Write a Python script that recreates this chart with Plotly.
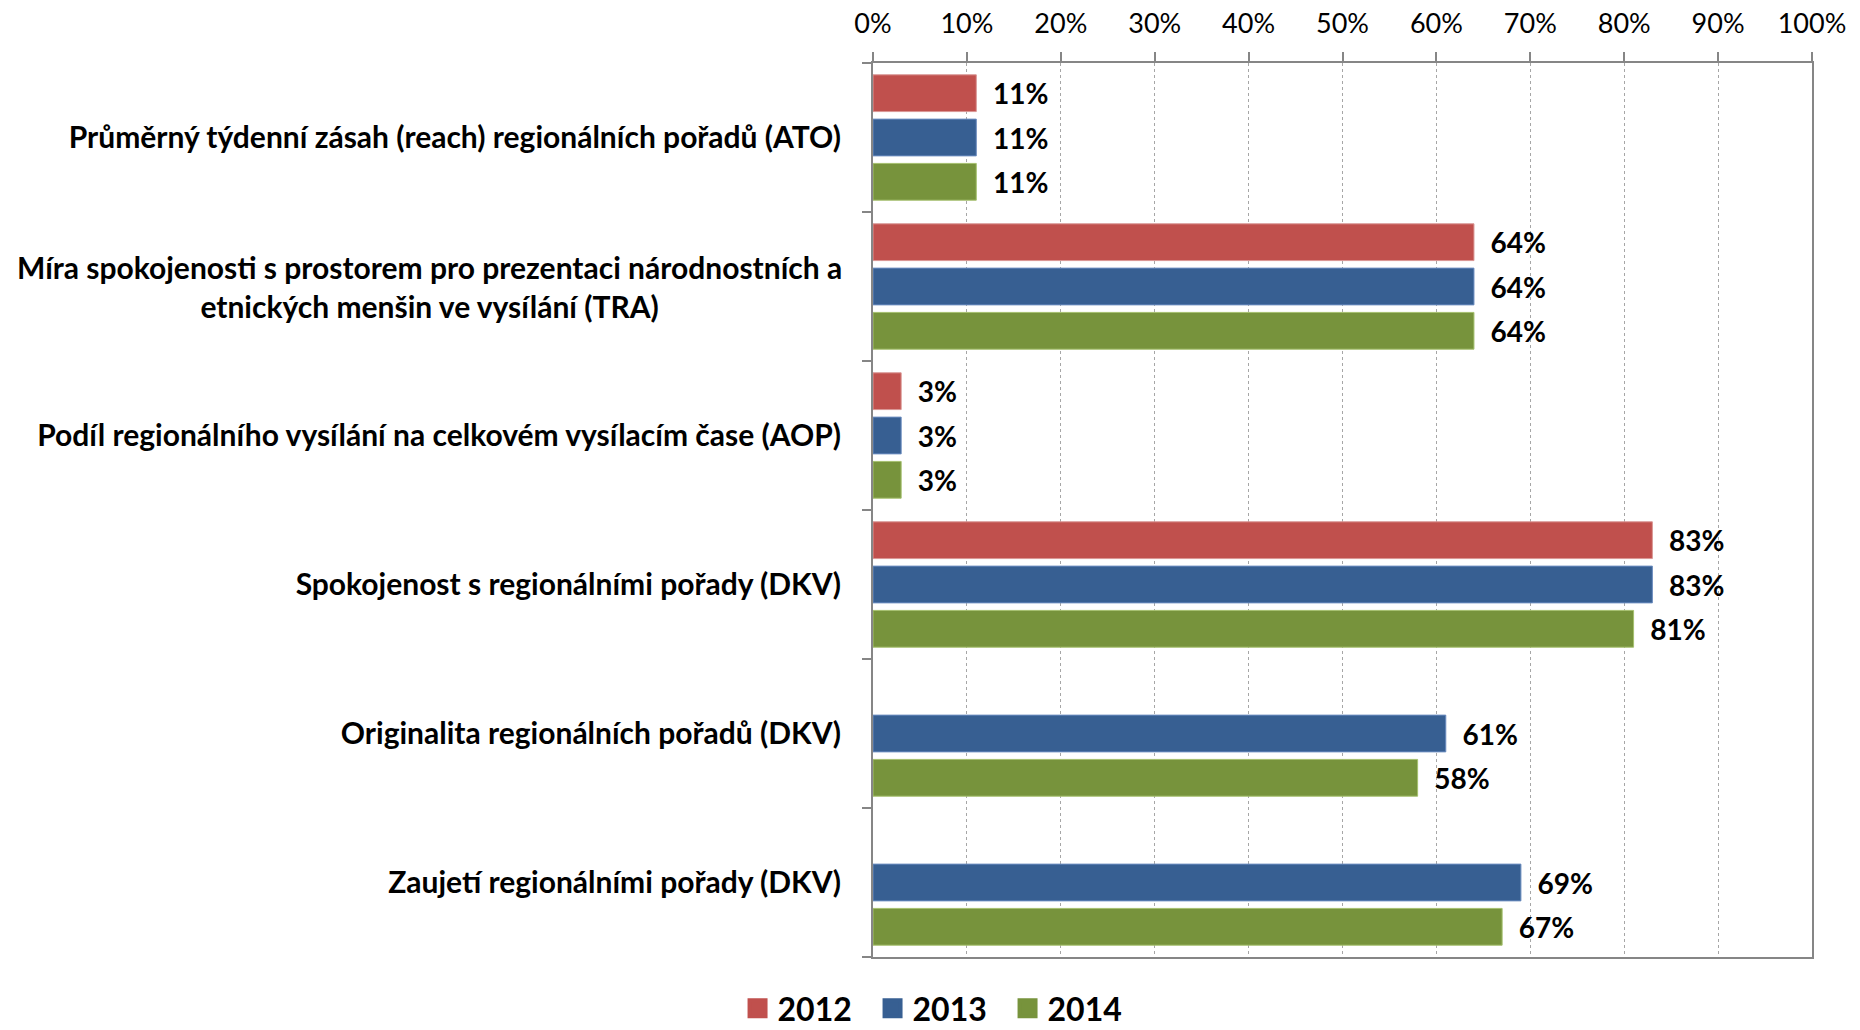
import plotly.graph_objects as go

categories = [
    "Průměrný týdenní zásah (reach) regionálních pořadů (ATO)",
    "Míra spokojenosti s prostorem pro prezentaci národnostních a<br>etnických menšin ve vysílání (TRA)",
    "Podíl regionálního vysílání na celkovém vysílacím čase (AOP)",
    "Spokojenost s regionálními pořady (DKV)",
    "Originalita regionálních pořadů (DKV)",
    "Zaujetí regionálními pořady (DKV)",
]
years = ["2012", "2013", "2014"]
values_2012 = [11, 64, 3, 83, None, None]
values_2013 = [11, 64, 3, 83, 61, 69]
values_2014 = [11, 64, 3, 81, 58, 67]
x_ticks = [0, 10, 20, 30, 40, 50, 60, 70, 80, 90, 100]
x_tick_labels = ["0%", "10%", "20%", "30%", "40%", "50%", "60%", "70%", "80%", "90%", "100%"]

series = [values_2012, values_2013, values_2014]
colors = ["#C0504D", "#375F92", "#77933C"]
edge_colors = ["#D99694", "#6B8CBF", "#A5C06E"]
FONT = "Lato"

fig = go.Figure()
for name, vals, col, edge in zip(years, series, colors, edge_colors):
    fig.add_trace(go.Bar(
        y=categories, x=vals, orientation="h", name=name,
        marker=dict(color=col, line=dict(color=edge, width=1)),
        texttemplate="  %{x:.0f}%", textposition="outside", cliponaxis=False,
        textfont=dict(family=FONT, size=28, color="#000000", weight="bold"),
        showlegend=False, hoverinfo="skip",
    ))
    fig.add_trace(go.Scatter(
        x=[None], y=[None], mode="markers", name=name,
        marker=dict(symbol="square", size=16, color=col, line=dict(color=col, width=4)),
        showlegend=True,
    ))

tick_text = [c if "<br>" not in c else "" for c in categories]
annotations = []
for c in categories:
    if "<br>" in c:
        annotations.append(dict(
            text=c, xref="paper", yref="y", x=0, y=c, xanchor="right",
            xshift=-29, align="center", showarrow=False,
            font=dict(family=FONT, size=30, color="#000000", weight="bold"),
        ))

fig.update_layout(
    width=1860, height=1030,
    margin=dict(l=873, r=48, t=63, b=73, autoexpand=False),
    paper_bgcolor="white", plot_bgcolor="white",
    barmode="group", bargap=0.108, bargroupgap=0.17,
    font=dict(family=FONT, color="#000000"),
    annotations=annotations,
    legend=dict(
        orientation="h", xref="container", yref="container",
        x=0.5054, y=0.021, xanchor="center", yanchor="middle",
        font=dict(family=FONT, size=32, color="#000000", weight="bold"),
        itemsizing="trace", entrywidth=90,
    ),
)
fig.update_xaxes(
    side="top", range=[0, 100], tickvals=x_ticks, ticktext=x_tick_labels,
    tickfont=dict(family=FONT, size=27, color="#000000"),
    showgrid=True, gridcolor="#A6A6A6", griddash="dot", gridwidth=1,
    showline=True, linecolor="#868686", linewidth=2, mirror=True,
    ticks="outside", ticklen=9, tickcolor="#868686", tickwidth=2,
    ticklabelstandoff=8, zeroline=False, fixedrange=True, automargin=False,
)
fig.update_yaxes(
    type="category", autorange="reversed", tickson="boundaries",
    tickvals=categories, ticktext=tick_text,
    tickfont=dict(family=FONT, size=30, color="#000000", weight="bold"),
    showgrid=False, showline=True, linecolor="#868686", linewidth=2, mirror=True,
    ticks="outside", ticklen=9, tickcolor="#868686", tickwidth=2,
    ticklabelstandoff=24, fixedrange=True, automargin=False,
)

fig.write_html("out.html", config={"displayModeBar": False},
               post_script="document.body.style.margin='0';")
